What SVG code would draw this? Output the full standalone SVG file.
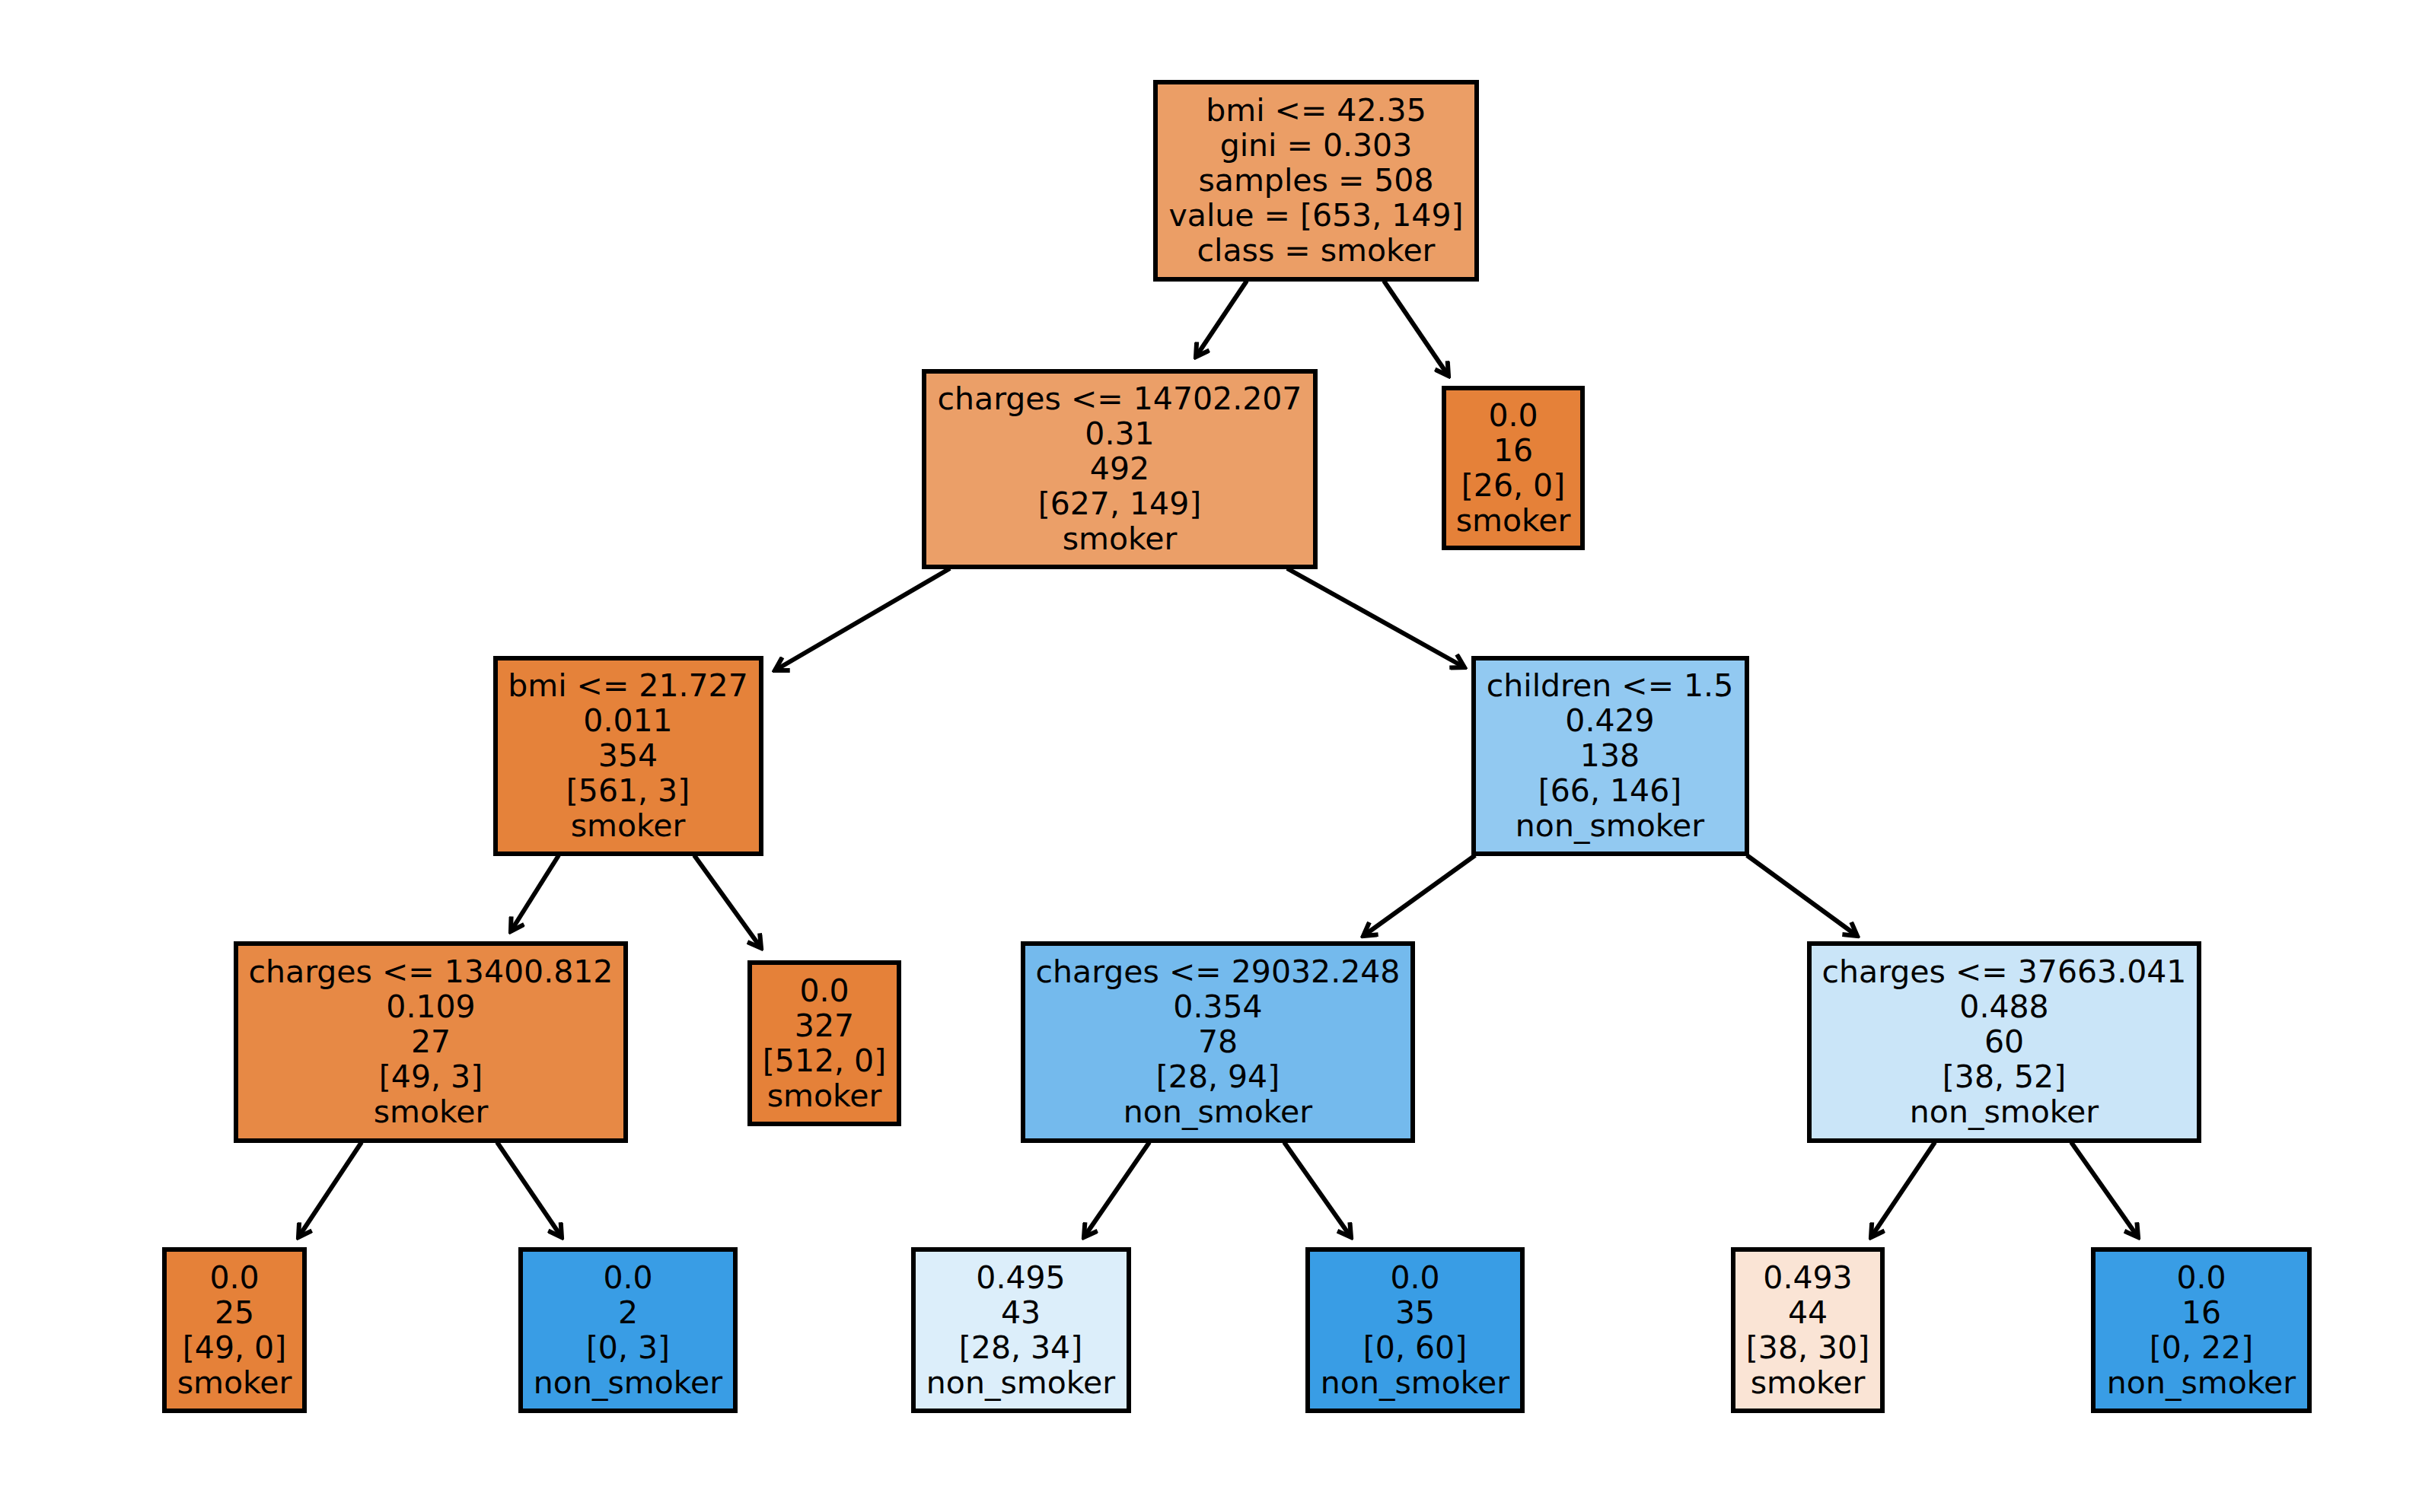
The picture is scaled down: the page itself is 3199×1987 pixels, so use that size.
<svg xmlns="http://www.w3.org/2000/svg" width="3199" height="1987" viewBox="0 0 3199 1987">
<style>
rect{stroke:#000;stroke-width:6}
text{font-family:"DejaVu Sans",sans-serif;font-size:41px;text-anchor:middle;dominant-baseline:central;fill:#000}
.c line{stroke:#000;stroke-width:6;marker-end:url(#a)}
</style>
<defs><marker id="a" viewBox="-20 -12 24 24" markerWidth="24" markerHeight="24" refX="0" refY="0" orient="auto" markerUnits="userSpaceOnUse"><path d="M-17,-10 L0,0 L-17,10" fill="none" stroke="#000" stroke-width="6" stroke-linejoin="miter"/></marker></defs>
<rect width="3199" height="1987" fill="#fff" style="stroke:none"/>
<g class="c">
<line x1="1638" y1="369" x2="1571" y2="469"/>
<line x1="1818" y1="369" x2="1903" y2="494"/>
<line x1="1248" y1="747" x2="1018" y2="881"/>
<line x1="1691" y1="747" x2="1924" y2="877"/>
<line x1="734" y1="1124" x2="671" y2="1224"/>
<line x1="912" y1="1124" x2="1000" y2="1246"/>
<line x1="1938" y1="1124" x2="1791" y2="1230"/>
<line x1="2295" y1="1124" x2="2440" y2="1230"/>
<line x1="475" y1="1501" x2="392" y2="1626"/>
<line x1="653" y1="1501" x2="738" y2="1626"/>
<line x1="1510" y1="1501" x2="1424" y2="1626"/>
<line x1="1687" y1="1501" x2="1775" y2="1626"/>
<line x1="2542" y1="1501" x2="2458" y2="1626"/>
<line x1="2721" y1="1501" x2="2809" y2="1626"/>
</g>
<g id="n0"><rect x="1518" y="108" width="422" height="259" fill="#eb9e66"/><text x="1729" y="145">bmi &lt;= 42.35</text><text x="1729" y="191">gini = 0.303</text><text x="1729" y="237">samples = 508</text><text x="1729" y="283">value = [653, 149]</text><text x="1729" y="329">class = smoker</text></g>
<g id="n1"><rect x="1214" y="488" width="514" height="257" fill="#eb9f68"/><text x="1471" y="524">charges &lt;= 14702.207</text><text x="1471" y="570">0.31</text><text x="1471" y="616">492</text><text x="1471" y="662">[627, 149]</text><text x="1471" y="708">smoker</text></g>
<g id="n2"><rect x="1897" y="510" width="182" height="210" fill="#e58139"/><text x="1988" y="546">0.0</text><text x="1988" y="592">16</text><text x="1988" y="638">[26, 0]</text><text x="1988" y="684">smoker</text></g>
<g id="n3"><rect x="651" y="865" width="349" height="257" fill="#e5823a"/><text x="825" y="901">bmi &lt;= 21.727</text><text x="825" y="947">0.011</text><text x="825" y="993">354</text><text x="825" y="1039">[561, 3]</text><text x="825" y="1085">smoker</text></g>
<g id="n4"><rect x="1936" y="865" width="359" height="257" fill="#92c9f1"/><text x="2115" y="901">children &lt;= 1.5</text><text x="2115" y="947">0.429</text><text x="2115" y="993">138</text><text x="2115" y="1039">[66, 146]</text><text x="2115" y="1085">non_smoker</text></g>
<g id="n5"><rect x="310" y="1240" width="512" height="259" fill="#e78945"/><text x="566" y="1277">charges &lt;= 13400.812</text><text x="566" y="1323">0.109</text><text x="566" y="1369">27</text><text x="566" y="1415">[49, 3]</text><text x="566" y="1461">smoker</text></g>
<g id="n6"><rect x="985" y="1265" width="196" height="212" fill="#e58139"/><text x="1083" y="1302">0.0</text><text x="1083" y="1348">327</text><text x="1083" y="1394">[512, 0]</text><text x="1083" y="1440">smoker</text></g>
<g id="n7"><rect x="1344" y="1240" width="512" height="259" fill="#74baed"/><text x="1600" y="1277">charges &lt;= 29032.248</text><text x="1600" y="1323">0.354</text><text x="1600" y="1369">78</text><text x="1600" y="1415">[28, 94]</text><text x="1600" y="1461">non_smoker</text></g>
<g id="n8"><rect x="2377" y="1240" width="512" height="259" fill="#cae5f8"/><text x="2633" y="1277">charges &lt;= 37663.041</text><text x="2633" y="1323">0.488</text><text x="2633" y="1369">60</text><text x="2633" y="1415">[38, 52]</text><text x="2633" y="1461">non_smoker</text></g>
<g id="l1"><rect x="216" y="1642" width="184" height="212" fill="#e58139"/><text x="308" y="1679">0.0</text><text x="308" y="1725">25</text><text x="308" y="1771">[49, 0]</text><text x="308" y="1817">smoker</text></g>
<g id="l2"><rect x="684" y="1642" width="282" height="212" fill="#399de5"/><text x="825" y="1679">0.0</text><text x="825" y="1725">2</text><text x="825" y="1771">[0, 3]</text><text x="825" y="1817">non_smoker</text></g>
<g id="l3"><rect x="1200" y="1642" width="283" height="212" fill="#dceefa"/><text x="1341" y="1679">0.495</text><text x="1341" y="1725">43</text><text x="1341" y="1771">[28, 34]</text><text x="1341" y="1817">non_smoker</text></g>
<g id="l4"><rect x="1718" y="1642" width="282" height="212" fill="#399de5"/><text x="1859" y="1679">0.0</text><text x="1859" y="1725">35</text><text x="1859" y="1771">[0, 60]</text><text x="1859" y="1817">non_smoker</text></g>
<g id="l5"><rect x="2277" y="1642" width="196" height="212" fill="#fae4d5"/><text x="2375" y="1679">0.493</text><text x="2375" y="1725">44</text><text x="2375" y="1771">[38, 30]</text><text x="2375" y="1817">smoker</text></g>
<g id="l6"><rect x="2750" y="1642" width="284" height="212" fill="#399de5"/><text x="2892" y="1679">0.0</text><text x="2892" y="1725">16</text><text x="2892" y="1771">[0, 22]</text><text x="2892" y="1817">non_smoker</text></g>
</svg>
